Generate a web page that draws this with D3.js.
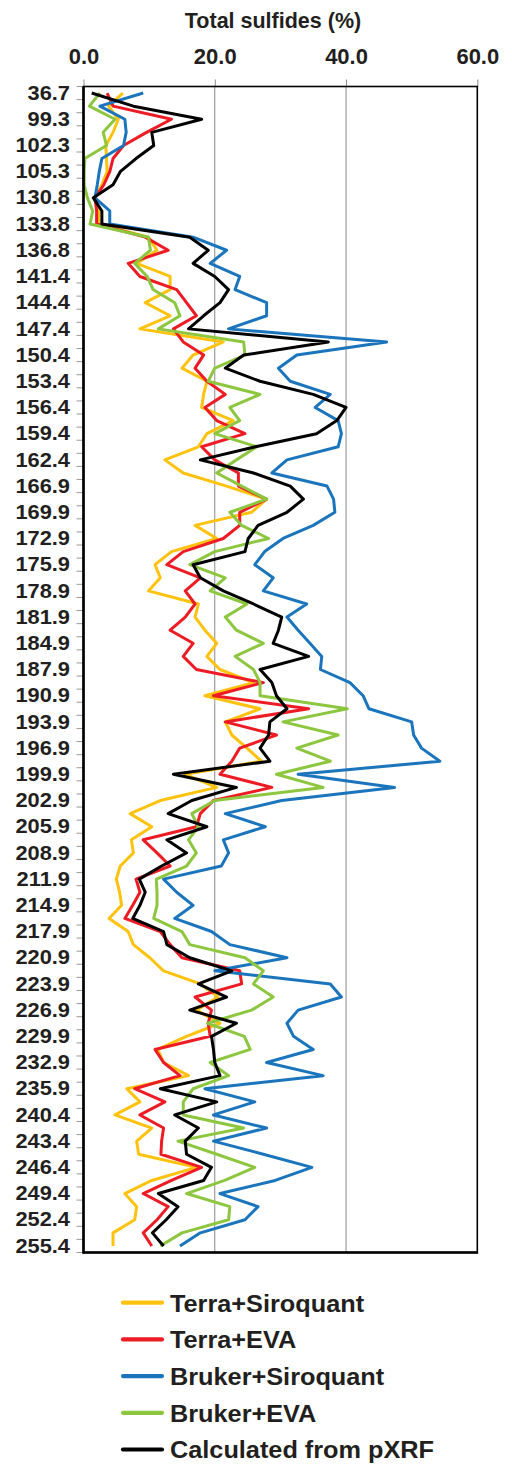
<!DOCTYPE html>
<html>
<head>
<meta charset="utf-8">
<script src="https://cdn.jsdelivr.net/npm/d3@7"></script>
<style>
  html, body { margin: 0; padding: 0; background: #fff; }
  svg { display: block; }
  text { font-family: "Liberation Sans", Arial, Helvetica, sans-serif; font-weight: bold; fill: #231f20; }
</style>
</head>
<body>
<svg id="chart" width="512" height="1464"></svg>
<script>
// ---- Data ----
const depths = [
  "36.7","97.8","99.3","100.8","102.3","103.8","105.3","129.3","130.8","132.3",
  "133.8","135.3","136.8","139.9","141.4","142.9","144.4","145.9","147.4","148.9",
  "150.4","151.9","153.4","154.9","156.4","157.9","159.4","160.9","162.4","165.4",
  "166.9","168.4","169.9","171.4","172.9","174.4","175.9","177.4","178.9","180.4",
  "181.9","183.4","184.9","186.4","187.9","189.4","190.9","192.4","193.9","195.4",
  "196.9","198.4","199.9","201.4","202.9","204.4","205.9","207.4","208.9","210.4",
  "211.9","213.4","214.9","216.4","217.9","219.4","220.9","222.4","223.9","225.4",
  "226.9","228.4","229.9","231.4","232.9","234.4","235.9","238.9","240.4","241.9",
  "243.4","244.9","246.4","247.9","249.4","250.9","252.4","253.9","255.4"
];

const terraSiroquant = [
  6.0,3.8,5.3,4.5,3.4,3.5,3.6,2.8,1.75,2.3,
  2.3,9.9,11.2,8.1,13.2,13.2,9.4,13.2,8.6,21.3,
  16.7,15.0,18.8,18.3,18.0,22.8,18.8,17.5,12.4,15.2,
  21.8,27.9,25.6,17.0,20.3,13.4,10.9,11.7,9.9,17.5,
  17.0,18.5,20.3,18.8,20.8,25.9,18.5,26.9,21.6,22.6,
  24.9,27.1,15.5,20.3,11.7,7.1,10.4,7.3,7.6,5.6,
  5.0,5.5,5.8,3.9,6.8,7.6,10.1,12.2,17.8,20.5,
  17.2,20.8,15.7,11.3,12.2,16.0,6.6,8.6,4.8,10.4,
  8.1,8.4,17.2,10.4,6.3,8.1,7.8,4.5,4.5
];

const terraEVA = [
  3.6,4.5,13.4,9.6,6.1,4.5,4.0,3.1,1.75,2.0,
  2.0,9.4,12.9,6.8,8.6,14.2,15.7,17.2,13.7,15.2,
  18.3,17.0,18.8,21.6,18.5,20.3,24.6,18.0,20.0,23.6,
  23.6,27.9,23.8,23.8,21.3,15.2,12.7,17.8,15.5,17.0,
  15.5,13.2,16.7,15.2,17.2,27.4,19.8,34.3,21.6,29.4,
  23.8,22.6,20.8,28.7,19.8,17.8,17.2,9.1,11.2,13.2,
  8.0,8.6,7.5,6.3,11.7,13.2,15.0,23.8,24.1,17.0,
  19.5,19.0,19.3,10.9,12.2,14.7,7.8,12.4,8.6,12.2,
  11.9,11.8,18.0,13.4,9.1,12.9,11.2,9.1,10.4
];

const brukerSiroquant = [
  9.1,2.5,6.3,6.5,6.1,2.8,2.4,2.1,1.75,4.0,
  4.0,16.7,21.8,19.3,23.8,23.1,27.9,27.9,22.1,46.2,
  32.5,29.7,31.5,37.6,35.3,38.8,39.3,38.8,31.0,28.7,
  37.1,38.1,38.3,35.0,30.4,27.6,26.1,28.9,27.4,34.0,
  31.0,32.7,34.5,36.3,36.1,40.6,42.6,43.5,50.0,50.3,
  51.5,54.3,32.7,47.4,30.2,21.6,27.7,21.3,22.1,21.0,
  12.2,14.2,16.7,13.9,19.5,22.3,31.0,20.0,37.6,39.3,
  32.7,31.0,32.0,35.0,27.9,36.5,18.5,26.1,19.8,27.9,
  19.8,27.4,34.8,29.2,20.8,26.6,24.6,17.8,14.7
];

const brukerEVA = [
  2.5,0.9,4.8,3.0,3.5,0.2,0.1,0.1,0.6,1.4,
  1.0,9.9,10.2,7.8,9.7,10.6,13.9,14.7,11.4,24.4,
  24.6,20.0,19.0,26.9,22.3,23.8,20.0,26.4,23.3,20.3,
  24.1,27.9,22.3,24.1,28.2,20.0,16.2,21.6,19.3,24.9,
  21.6,23.3,27.4,23.1,25.9,26.9,26.9,40.2,30.4,38.8,
  32.5,37.6,29.4,36.5,20.0,16.5,17.5,16.0,17.2,15.7,
  11.1,11.2,11.2,10.7,15.0,16.2,24.6,27.4,25.9,28.9,
  25.6,18.9,24.5,25.4,19.3,22.1,16.7,15.2,15.2,24.4,
  14.4,20.3,26.1,21.5,15.7,22.3,22.1,15.0,11.7
];

const pXRF = [
  1.25,7.6,18.0,10.4,10.7,8.0,5.6,4.5,1.5,2.8,
  2.8,16.2,19.0,16.7,20.0,22.1,20.8,18.3,16.0,37.3,
  24.4,21.6,26.9,35.0,40.0,38.6,35.5,26.2,17.8,25.9,
  31.5,33.5,31.0,26.6,25.1,24.6,16.7,17.8,21.3,25.9,
  30.2,29.7,28.9,34.3,26.9,28.7,29.4,31.0,28.4,28.2,
  26.9,28.4,13.7,23.3,16.5,12.9,18.8,12.7,15.7,11.9,
  8.5,9.4,8.6,7.5,12.2,12.7,16.2,22.6,17.5,21.8,
  16.2,23.3,19.5,19.8,20.0,20.8,11.7,20.3,13.9,17.5,
  15.5,15.7,19.5,18.3,11.4,14.4,12.6,10.5,12.2
];

const seriesNames = ["Terra+Siroquant","Terra+EVA","Bruker+Siroquant","Bruker+EVA","Calculated from pXRF"];
const seriesValues = [terraSiroquant, terraEVA, brukerSiroquant, brukerEVA, pXRF];
const seriesColors = ["#FFC20E","#ED1C24","#1B75BC","#8DC63F","#000000"];
const xTicks = [0, 20, 40, 60];
const xTitle = "Total sulfides (%)";

// ---- Layout ----
const svg = d3.select("#chart");
const L = 83.5, R = 477.3, T = 86.5, B = 1252.5;

const x = d3.scaleLinear().domain([0, 60]).range([L, R]);
const y = d3.scaleBand().domain(depths).range([T, B]).padding(0);
const yc = d => y(d) + y.bandwidth() / 2;

// gridlines
svg.append("g").selectAll("line")
  .data(xTicks.filter(t => t > 0 && t < 60))
  .join("line")
  .attr("x1", d => x(d)).attr("x2", d => x(d))
  .attr("y1", T).attr("y2", B)
  .attr("stroke", "#8a8a8a").attr("stroke-width", 1);

// top axis
const topAxis = svg.append("g")
  .attr("transform", `translate(0,${T})`)
  .call(d3.axisTop(x).tickValues(xTicks).tickFormat(d3.format(".1f")).tickSize(7).tickPadding(15.5));
topAxis.select(".domain").remove();
topAxis.selectAll(".tick line").attr("stroke", "#8a8a8a").attr("stroke-width", 1);
topAxis.selectAll(".tick text")
  .style("font-size", "22px").attr("fill", "#231f20");

// left axis (labels every other category)
const leftAxis = svg.append("g")
  .attr("transform", `translate(${L},0)`)
  .call(d3.axisLeft(y).tickValues(depths.filter((d, i) => i % 2 === 0)).tickSize(0).tickPadding(0));
leftAxis.select(".domain").remove();
leftAxis.selectAll(".tick text")
  .attr("x", 0)
  .attr("dy", "0.34em")
  .attr("transform", "translate(-13.5,0) scale(1.12,1)")
  .style("font-size", "19.5px").attr("fill", "#231f20");

// boundary tick marks on left axis
const bounds = depths.map(d => y(d)).concat([y(depths[depths.length - 1]) + y.bandwidth()]);
svg.append("g").selectAll("line")
  .data(bounds)
  .join("line")
  .attr("x1", L - 7).attr("x2", L)
  .attr("y1", d => d).attr("y2", d => d)
  .attr("stroke", "#9a9a9a").attr("stroke-width", 1);

// series lines
const line = d3.line()
  .x(d => x(d.v))
  .y(d => yc(d.c));

seriesValues.forEach((vals, k) => {
  const pts = vals.map((v, i) => ({ c: depths[i], v }));
  svg.append("path")
    .datum(pts)
    .attr("fill", "none")
    .attr("stroke", seriesColors[k])
    .attr("stroke-width", 3)
    .attr("stroke-linejoin", "round")
    .attr("stroke-linecap", "butt")
    .attr("d", line);
});

// frame
svg.append("rect")
  .attr("x", L).attr("y", T).attr("width", R - L).attr("height", B - T)
  .attr("fill", "none").attr("stroke", "#000").attr("stroke-width", 1.6);
svg.append("line").attr("x1", L).attr("x2", L).attr("y1", T).attr("y2", B + 1.2)
  .attr("stroke", "#000").attr("stroke-width", 2.6);
svg.append("line").attr("x1", L).attr("x2", R + 0.8).attr("y1", B).attr("y2", B)
  .attr("stroke", "#000").attr("stroke-width", 2.6);

// title
svg.append("text")
  .attr("x", 273).attr("y", 28.3)
  .attr("text-anchor", "middle")
  .style("font-size", "21.5px")
  .text(xTitle);

// legend
const legY0 = 1302.7, legStep = 36.7;
const leg = svg.append("g");
seriesNames.forEach((name, k) => {
  const yy = legY0 + k * legStep;
  leg.append("line")
    .attr("x1", 123).attr("x2", 162).attr("y1", yy).attr("y2", yy)
    .attr("stroke", seriesColors[k]).attr("stroke-width", 4.2)
    .attr("stroke-linecap", "round");
  leg.append("text")
    .attr("transform", `translate(170,${yy + 8.8}) scale(1.1,1)`)
    .style("font-size", "23px")
    .text(name);
});
</script>
</body>
</html>
